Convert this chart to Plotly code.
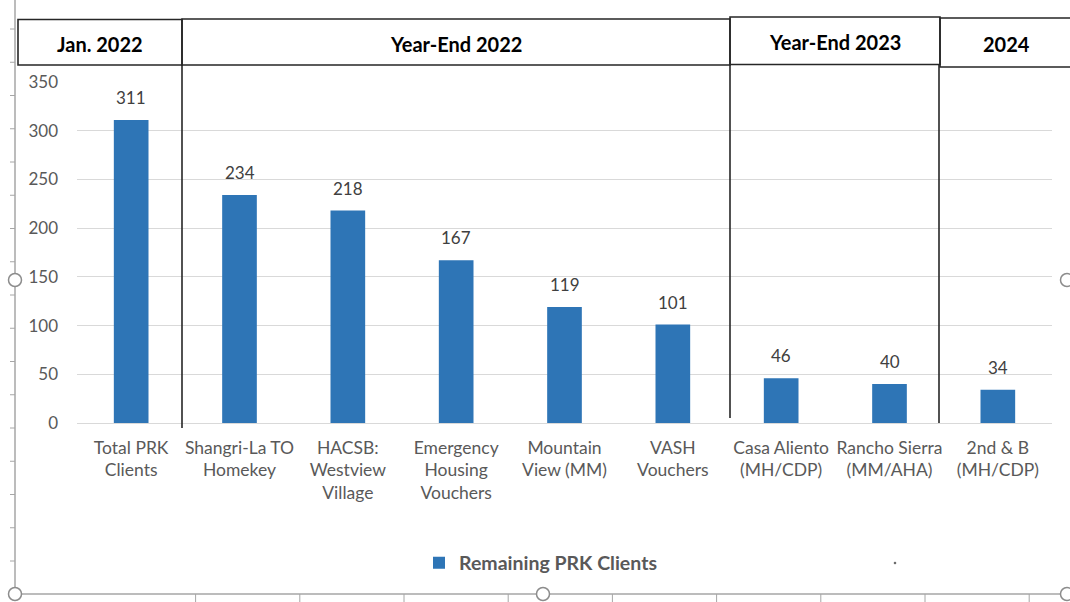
import plotly.graph_objects as go

categories = [
    "Total PRK<br>Clients",
    "Shangri-La TO<br>Homekey",
    "HACSB:<br>Westview<br>Village",
    "Emergency<br>Housing<br>Vouchers",
    "Mountain<br>View (MM)",
    "VASH<br>Vouchers",
    "Casa Aliento<br>(MH/CDP)",
    "Rancho Sierra<br>(MM/AHA)",
    "2nd & B<br>(MH/CDP)",
]
values = [311, 234, 218, 167, 119, 101, 46, 40, 34]
series_name = "Remaining PRK Clients"
y_ticks = [0, 50, 100, 150, 200, 250, 300, 350]
period_labels = ["Jan. 2022", "Year-End 2022", "Year-End 2023", "2024"]

W, H = 1070, 602
ML, MR, MT, MB = 77, 18, 82, 179
PW = W - ML - MR
PH = H - MT - MB

FONT = "Lato, Liberation Sans, sans-serif"
BLUE = "#2E75B6"
LINE = "#262626"
FRAME = "#a6a6a6"


def px(xp):
    return (xp - ML) / PW


def py(yp):
    return (H - MB - yp) / PH


fig = go.Figure()
fig.add_trace(go.Bar(
    x=categories, y=values, name=series_name,
    marker=dict(color=BLUE, line=dict(width=0)),
    width=0.32, showlegend=True,
))

annotations = []
for c, v in zip(categories, values):
    annotations.append(dict(
        x=c, y=v, xref="x", yref="y", text=str(v), showarrow=False,
        yanchor="bottom", yshift=10,
        font=dict(family=FONT, size=17, color="#404040"),
    ))

shapes = []
# header boxes (pixel geometry)
boxes = [(18, 182, 19.5, 65), (182, 730, 19, 65), (730, 940, 17, 64.5), (940, 1078, 18, 67)]
for (x0, x1, y0, y1), lab in zip(boxes, period_labels):
    shapes.append(dict(type="rect", xref="paper", yref="paper",
                       x0=px(x0), x1=px(x1), y0=py(y1), y1=py(y0),
                       line=dict(color=LINE, width=1.6), fillcolor="rgba(0,0,0,0)"))
    annotations.append(dict(
        x=px((x0 + min(x1, 1072)) / 2), y=py((y0 + y1) / 2 + 1.5), xref="paper", yref="paper",
        text=lab, showarrow=False, xanchor="center", yanchor="middle",
        font=dict(family=FONT, size=20, color="#000000", weight="bold"),
    ))
# vertical separators
for xs, ye in [(182, 428), (730, 418), (939, 423)]:
    shapes.append(dict(type="line", xref="paper", yref="paper",
                       x0=px(xs), x1=px(xs), y0=py(65), y1=py(ye),
                       line=dict(color=LINE, width=1.6)))

# outer frame artifacts
shapes.append(dict(type="line", xref="paper", yref="paper",
                   x0=px(15), x1=px(15), y0=py(0), y1=py(594),
                   line=dict(color=FRAME, width=1.5)))
shapes.append(dict(type="line", xref="paper", yref="paper",
                   x0=px(15), x1=px(1072), y0=py(594), y1=py(594),
                   line=dict(color=FRAME, width=1.5)))
for k in range(17):
    yy = 29 + 33.25 * k
    shapes.append(dict(type="line", xref="paper", yref="paper",
                       x0=px(10), x1=px(15), y0=py(yy), y1=py(yy),
                       line=dict(color=FRAME, width=1)))
for k in range(9):
    xx = 195.6 + 104.2 * k
    shapes.append(dict(type="line", xref="paper", yref="paper",
                       x0=px(xx), x1=px(xx), y0=py(594), y1=py(603),
                       line=dict(color=FRAME, width=1)))
for cx, cy in [(15, 280), (15, 594), (543, 594), (1067, 280), (1067, 594)]:
    r = 6.5
    shapes.append(dict(type="circle", xref="paper", yref="paper",
                       x0=px(cx - r), x1=px(cx + r), y0=py(cy + r), y1=py(cy - r),
                       line=dict(color="#8c8c8c", width=1.5), fillcolor="white"))
shapes.append(dict(type="circle", xref="paper", yref="paper",
                   x0=px(894), x1=px(896), y0=py(564), y1=py(562),
                   line=dict(color="#555555", width=0.5), fillcolor="#555555"))

fig.update_layout(
    width=W, height=H,
    margin=dict(l=ML, r=MR, t=MT, b=MB, pad=0),
    paper_bgcolor="white", plot_bgcolor="white",
    font=dict(family=FONT, size=17, color="#595959"),
    bargap=0.68,
    xaxis=dict(
        type="category", showgrid=False, showline=False, zeroline=False,
        ticks="", tickangle=0, tickfont=dict(family=FONT, size=17.5, color="#595959"),
        ticklabelstandoff=12, fixedrange=True,
    ),
    yaxis=dict(
        range=[0, 350], tickvals=y_ticks, showgrid=True, gridcolor="#d9d9d9",
        gridwidth=1, zeroline=True, zerolinecolor="#d9d9d9", zerolinewidth=1,
        showline=False, ticks="", tickfont=dict(family=FONT, size=17, color="#595959"),
        ticklabelstandoff=18, fixedrange=True,
    ),
    legend=dict(
        orientation="h", x=px(419), y=py(563), xanchor="left", yanchor="middle",
        font=dict(family=FONT, size=19.5, color="#595959", weight="bold"),
        bgcolor="rgba(0,0,0,0)",
    ),
    showlegend=True,
    shapes=shapes,
    annotations=annotations,
)

fig.write_html("out.html", config={"displayModeBar": False},
               post_script="document.body.style.margin='0';")
